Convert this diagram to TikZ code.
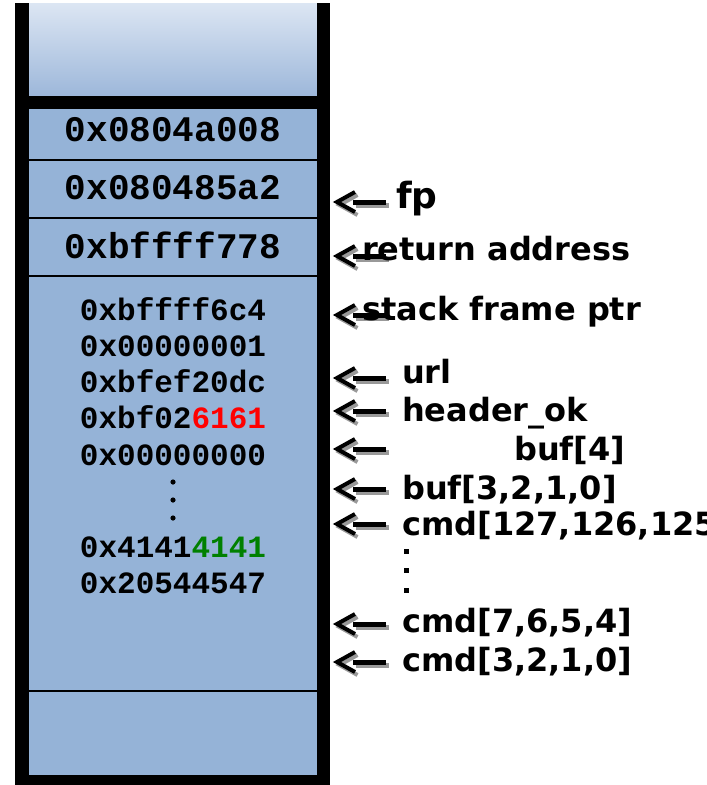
\documentclass[tikz,border=0pt]{standalone}
\usepackage{fontspec}
\newfontfamily\hexfont{Liberation Mono}
\newfontfamily\labfont{DejaVu Sans}
\definecolor{boxblue}{HTML}{95B3D7}
\definecolor{gradtop}{HTML}{DCE6F3}
\definecolor{gradbot}{HTML}{9DB7DA}
\definecolor{hexred}{HTML}{FF0000}
\definecolor{hexgreen}{HTML}{008000}
\definecolor{shadowgray}{HTML}{999999}
\tikzset{
  hexbig/.style={anchor=base, inner sep=0pt, font=\hexfont\bfseries\fontsize{36}{40}\selectfont},
  hexsmall/.style={anchor=base, inner sep=0pt, font=\hexfont\bfseries\fontsize{31}{36}\selectfont},
  lab/.style={anchor=base west, inner sep=0pt, font=\labfont\bfseries\fontsize{32}{38}\selectfont},
  labbig/.style={anchor=base west, inner sep=0pt, font=\labfont\bfseries\fontsize{36}{40}\selectfont},
  sepline/.style={line width=1.5pt, black},
  ptrarrow/.pic={
    \draw[shadowgray, line width=4pt, shift={(2.5,3)}] (19,-10) -- (1,0) -- (19,10);
    \draw[shadowgray, line width=5pt, shift={(2.5,3)}] (17,0) -- (50,0);
    \draw[black, line width=4pt] (19,-10) -- (1,0) -- (19,10);
    \draw[black, line width=5pt] (17,0) -- (50,0);
  }
}
\begin{document}
\begin{tikzpicture}[x=1pt,y=-1pt]
\useasboundingbox (0,0) rectangle (707,785);
% stack box
\shade[top color=gradtop, bottom color=gradbot] (29,3) rectangle (317,96);
\fill[boxblue] (29,109) rectangle (317,775);
\draw[sepline] (29,160) -- (317,160);
\draw[sepline] (29,218) -- (317,218);
\draw[sepline] (29,276) -- (317,276);
\draw[sepline] (29,691) -- (317,691);
\fill[black] (15,3) rectangle (29,785);
\fill[black] (317,3) rectangle (330,785);
\fill[black] (15,96) rectangle (330,109);
\fill[black] (15,775) rectangle (330,785);
% values
\node[hexbig] (r1) at (173,141) {0x0804a008};
\node[hexbig] (r2) at (173,199.5) {0x080485a2};
\node[hexbig] (r3) at (173,258) {0xbffff778};
\node[hexsmall] (s1) at (173,320) {0xbffff6c4};
\node[hexsmall] (s2) at (173,356) {0x00000001};
\node[hexsmall] (s3) at (173,392) {0xbfef20dc};
\node[hexsmall] (s4) at (173,428) {0xbf02\textcolor{hexred}{6161}};
\node[hexsmall] (s5) at (173,465) {0x00000000};
\fill[black] (173,482) circle (2.6);
\fill[black] (173,500) circle (2.6);
\fill[black] (173,518) circle (2.6);
\node[hexsmall] (s6) at (173,557) {0x4141\textcolor{hexgreen}{4141}};
\node[hexsmall] (s7) at (173,593) {0x20544547};
% pointers
\pic at (336,202) {ptrarrow};
\pic at (336,256) {ptrarrow};
\pic at (336,315) {ptrarrow};
\pic at (336,378) {ptrarrow};
\pic at (336,411) {ptrarrow};
\pic at (336,449) {ptrarrow};
\pic at (336,489) {ptrarrow};
\pic at (336,524) {ptrarrow};
\pic at (336,624) {ptrarrow};
\pic at (336,662) {ptrarrow};
% labels
\node[labbig] (fp) at (396,208) {fp};
\node[lab] (ret) at (362,260) {return address};
\node[lab] (sfp) at (362,320) {stack frame ptr};
\node[lab] (url) at (402,383) {url};
\node[lab] (hok) at (402,421) {header\_ok};
\node[lab] (b4) at (514,460) {buf[4]};
\node[lab] (b3) at (402,499) {buf[3,2,1,0]};
\node[lab] (c127) at (402,535) {cmd[127,126,125};
\fill[black] (403.5,548.5) rectangle (408.5,553.5);
\fill[black] (403.5,568) rectangle (408.5,573);
\fill[black] (403.5,587.5) rectangle (408.5,592.5);
\node[lab] (c7) at (402,632) {cmd[7,6,5,4]};
\node[lab] (c3) at (402,671) {cmd[3,2,1,0]};
\end{tikzpicture}
\end{document}
